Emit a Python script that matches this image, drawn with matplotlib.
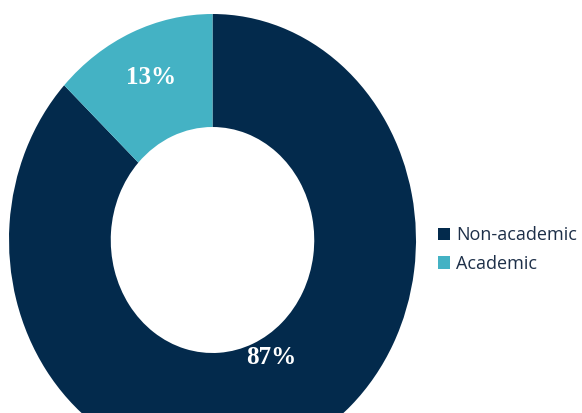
import matplotlib
matplotlib.use('Agg')
import matplotlib.pyplot as plt
from matplotlib.patches import Patch

categories = ['Non-academic', 'Academic']
shares = [87, 13]
colors = ['#032a4c', '#44b2c4']

# label anchor points inside the ring (data coords)
label_pos = [(0.29, -0.52), (-0.30, 0.72)]

px = 1 / 100
fig = plt.figure(figsize=(582 * px, 413 * px), dpi=100)

# ring is a bit taller than wide and runs off the bottom edge
ax = fig.add_axes([9 / 582, -53 / 413, 407 / 582, 452 / 413])
wedges, _ = ax.pie(shares, colors=colors, startangle=90, counterclock=False,
                   radius=1.0, wedgeprops=dict(width=0.5, edgecolor='none'))
ax.set_aspect('auto')
ax.set_xlim(-1, 1)
ax.set_ylim(-1, 1)
ax.axis('off')

for val, (x, y) in zip(shares, label_pos):
    ax.text(x, y, str(val) + '%', ha='center', va='center', color='white',
            fontsize=18, fontweight='bold', family='Liberation Serif')

handles = [Patch(facecolor=c, edgecolor='none') for c in colors]
leg = fig.legend(handles, categories, loc='upper left',
                 bbox_to_anchor=(438 / 582, 1 - 226 / 413), frameon=False,
                 prop=dict(family='Open Sans', size=13), handlelength=0.65,
                 handleheight=0.65, handletextpad=0.35, labelspacing=0.6,
                 borderpad=0, borderaxespad=0)
for t in leg.get_texts():
    t.set_color('#1d2f48')

fig.savefig('out.png', dpi=100)
